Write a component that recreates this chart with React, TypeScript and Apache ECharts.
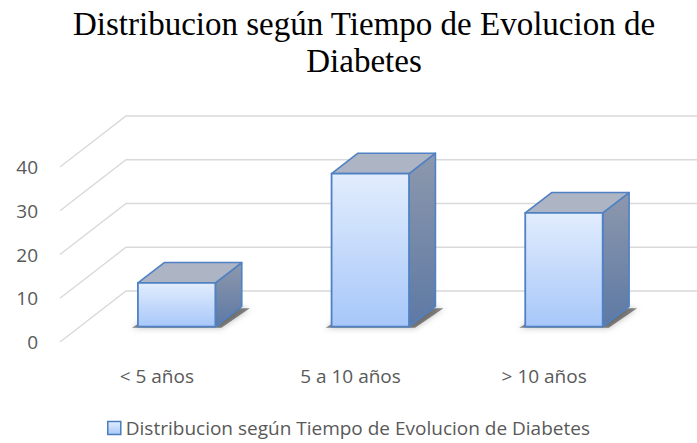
import React, { useEffect, useRef } from "react";
import * as echarts from "echarts";

const categories = ["< 5 años", "5 a 10 años", "> 10 años"];
const values = [10, 35, 26];
const yTicks = [0, 10, 20, 30, 40];
const seriesName = "Distribucion según Tiempo de Evolucion de Diabetes";
const titleText = "Distribucion según Tiempo de Evolucion de\nDiabetes";

const DEPTH_X = 66;
const DEPTH_Y = 51;
const BAR_FRONT = 0.3;
const BAR_BACK = 0.7;
const FONT = "'Open Sans', 'Noto Sans', sans-serif";

export default function App() {
  const ref = useRef<HTMLDivElement>(null);
  useEffect(() => {
    const chart = echarts.init(ref.current!, null, { renderer: "svg" });
    const frontFill = new echarts.graphic.LinearGradient(0, 0, 0, 1, [
      { offset: 0, color: "#e2edfd" },
      { offset: 1, color: "#a7c7f9" },
    ]);
    const sideFill = new echarts.graphic.LinearGradient(0, 0, 0, 1, [
      { offset: 0, color: "#8d98ad" },
      { offset: 1, color: "#5d79a4" },
    ]);
    const legendFill = new echarts.graphic.LinearGradient(0, 0, 0, 1, [
      { offset: 0, color: "#e2edfd" },
      { offset: 1, color: "#a7c7f9" },
    ]);
    const option = {
      animation: false,
      title: {
        text: titleText,
        left: 364,
        top: 5,
        textAlign: "center",
        padding: 0,
        textStyle: {
          fontFamily: "'Liberation Serif', 'Times New Roman', serif",
          fontSize: 33,
          lineHeight: 37,
          fontWeight: "normal",
          color: "#000000",
        },
      },
      grid: { left: 60, right: 56, top: 167, bottom: 101 },
      xAxis: {
        type: "category",
        data: categories,
        axisLine: { show: false },
        axisTick: { show: false },
        splitLine: { show: false },
        axisLabel: { margin: 24, fontFamily: FONT, fontSize: 19, color: "#595959" },
      },
      yAxis: {
        type: "value",
        min: 0,
        max: 40,
        interval: 10,
        axisLine: { show: false },
        axisTick: { show: false },
        splitLine: { show: false },
        axisLabel: { margin: 22, fontFamily: FONT, fontSize: 19, color: "#595959" },
      },
      legend: {
        left: "center",
        top: 417,
        padding: 0,
        itemWidth: 13,
        itemHeight: 13,
        itemGap: 4,
        textStyle: { fontFamily: FONT, fontSize: 19, lineHeight: 22, color: "#595959" },
        data: [
          {
            name: seriesName,
            icon: "rect",
            itemStyle: { color: legendFill, borderColor: "#4a7ebb", borderWidth: 1.5 },
          },
        ],
      },
      series: [
        {
          type: "custom",
          name: "grid",
          silent: true,
          encode: { x: 0, y: 1 },
          data: yTicks.map((v) => [0, v]),
          renderItem: (params: any, api: any) => {
            const cs = params.coordSys;
            const p = api.coord([0, api.value(1)]);
            const x0 = cs.x;
            const y0 = p[1];
            return {
              type: "polyline",
              shape: {
                points: [
                  [x0, y0],
                  [x0 + DEPTH_X, y0 - DEPTH_Y],
                  [cs.x + cs.width + DEPTH_X + 10, y0 - DEPTH_Y],
                ],
              },
              style: { stroke: "#d9d9d9", lineWidth: 1.4, fill: null },
            };
          },
        },
        {
          type: "custom",
          name: seriesName,
          encode: { x: 0, y: 1 },
          data: values.map((v, i) => [i, v]),
          renderItem: (params: any, api: any) => {
            const base = api.coord([api.value(0), 0]);
            const top = api.coord([api.value(0), api.value(1)]);
            const bw = api.size([1, 0])[0] * 0.4;
            const fx = base[0] + BAR_FRONT * DEPTH_X;
            const fy0 = base[1] - BAR_FRONT * DEPTH_Y;
            const fy1 = top[1] - BAR_FRONT * DEPTH_Y;
            const dx = (BAR_BACK - BAR_FRONT) * DEPTH_X;
            const dy = (BAR_BACK - BAR_FRONT) * DEPTH_Y;
            const l = fx - bw / 2;
            const r = fx + bw / 2;
            const edge = "#4f81c4";
            return {
              type: "group",
              children: [
                {
                  type: "polygon",
                  shape: {
                    points: [
                      [l - 6, fy0 + 1],
                      [l + dx, fy0 - dy + 2],
                      [r + dx + 8, fy0 - dy + 2],
                      [r + 6, fy0 + 1],
                    ],
                  },
                  style: {
                    fill: "rgba(40,40,40,0.55)",
                    shadowBlur: 6,
                    shadowColor: "rgba(0,0,0,0.5)",
                  },
                },
                {
                  type: "polygon",
                  shape: {
                    points: [
                      [r, fy1],
                      [r + dx, fy1 - dy],
                      [r + dx, fy0 - dy],
                      [r, fy0],
                    ],
                  },
                  style: { fill: sideFill, stroke: edge, lineWidth: 1.6, lineJoin: "round" },
                },
                {
                  type: "polygon",
                  shape: {
                    points: [
                      [l, fy1],
                      [l + dx, fy1 - dy],
                      [r + dx, fy1 - dy],
                      [r, fy1],
                    ],
                  },
                  style: { fill: "#adb5c5", stroke: edge, lineWidth: 1.6, lineJoin: "round" },
                },
                {
                  type: "rect",
                  shape: { x: l, y: fy1, width: bw, height: fy0 - fy1 },
                  style: { fill: frontFill, stroke: edge, lineWidth: 1.8 },
                },
              ],
            };
          },
        },
      ],
    };
    chart.setOption(option as any);
    return () => chart.dispose();
  }, []);
  return (
    <div
      ref={ref}
      style={{ position: "fixed", left: 0, top: 0, width: 697, height: 443, background: "#ffffff" }}
    />
  );
}
